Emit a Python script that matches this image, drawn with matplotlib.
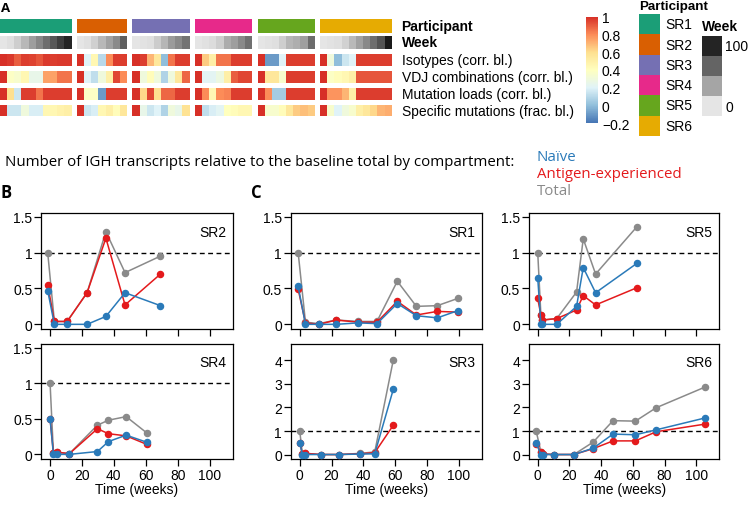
import numpy as np
import matplotlib
matplotlib.use("Agg")
import matplotlib.pyplot as plt
from matplotlib.colors import LinearSegmentedColormap, ListedColormap, Normalize
from matplotlib.cm import ScalarMappable
from matplotlib.patches import Rectangle

W, H = 749, 506

# ---------------- data ----------------
participants = ["SR1", "SR2", "SR3", "SR4", "SR5", "SR6"]
participant_colors = ["#1b9e77", "#d95f02", "#7570b3", "#e7298a", "#66a61e", "#e6ab02"]

# time points (weeks)
weeks = {
    "SR1": [-1, 3.6, 12.1, 23, 36.7, 48.6, 61.4, 73.4, 86.6, 99.4],
    "SR2": [-1.5, 2.7, 10.7, 23.2, 35, 47, 69.2],
    "SR3": [0, 1.7, 3.6, 13.2, 24.5, 38.2, 47.2, 58.9],
    "SR4": [0, 2.1, 4.6, 12.1, 29.7, 36.6, 47.7, 60.7],
    "SR5": [0, 2, 3, 12, 24.5, 28.7, 36.5, 62.6],
    "SR6": [-1, 2, 3.5, 10.3, 22.8, 35, 47.5, 61.6, 74.7, 105.2],
}
naive = {
    "SR1": [0.53, 0.0, 0.0, 0.0, 0.02, 0.01, 0.29, 0.12, 0.09, 0.19],
    "SR2": [0.47, 0.0, 0.0, 0.0, 0.11, 0.44, 0.26],
    "SR3": [0.49, 0.0, 0.0, 0.0, 0.0, 0.02, 0.03, 2.78],
    "SR4": [0.5, 0.0, 0.0, 0.0, 0.04, 0.18, 0.27, 0.17],
    "SR5": [0.65, 0.0, 0.0, 0.0, 0.25, 0.79, 0.44, 0.85],
    "SR6": [0.5, 0.0, 0.0, 0.0, 0.0, 0.27, 0.87, 0.84, 1.05, 1.55],
}
antigen_exp = {
    "SR1": [0.49, 0.02, 0.0, 0.06, 0.03, 0.03, 0.32, 0.13, 0.18, 0.17],
    "SR2": [0.55, 0.04, 0.04, 0.44, 1.2, 0.27, 0.70],
    "SR3": [0.5, 0.02, 0.05, 0.0, 0.0, 0.03, 0.08, 1.25],
    "SR4": [0.5, 0.02, 0.03, 0.01, 0.36, 0.29, 0.26, 0.14],
    "SR5": [0.36, 0.13, 0.06, 0.08, 0.2, 0.40, 0.27, 0.51],
    "SR6": [0.45, 0.1, 0.02, 0.0, 0.0, 0.25, 0.58, 0.58, 0.97, 1.29],
}
total = {
    "SR1": [1.0, 0.03, 0.01, 0.06, 0.04, 0.04, 0.60, 0.25, 0.26, 0.36],
    "SR2": [1.0, 0.04, 0.04, 0.44, 1.29, 0.72, 0.95],
    "SR3": [1.0, 0.02, 0.05, 0.0, 0.0, 0.05, 0.11, 4.03],
    "SR4": [1.0, 0.02, 0.03, 0.01, 0.41, 0.48, 0.53, 0.30],
    "SR5": [1.0, 0.13, 0.06, 0.08, 0.45, 1.19, 0.70, 1.36],
    "SR6": [1.0, 0.12, 0.02, 0.0, 0.0, 0.53, 1.44, 1.42, 1.99, 2.86],
}

# heatmap rows
heat_labels = ["Isotypes (corr. bl.)", "VDJ combinations (corr. bl.)",
               "Mutation loads (corr. bl.)", "Specific mutations (frac. bl.)"]
isotypes = {
    "SR1": [1, 0.98, 0.9, 0.97, 0.96, 0.92, 0.98, 0.97, 0.98, 0.98],
    "SR2": [1, 0.2, 0.45, 0.1, 0.8, 0.97, 0.97],
    "SR3": [1, 0.97, 0.7, 0.55, 0.0, 0.85, 0.97, 0.97],
    "SR4": [1, 0.65, 0.5, 0.85, 0.85, 0.97, 0.97, 0.97],
    "SR5": [1, -0.1, -0.1, 0.2, 0.97, 0.97, 0.97, 0.97],
    "SR6": [1, 0.3, 0.0, 0.15, 0.2, 0.97, 0.97, 0.97, 0.97, 0.97],
}
vdj = {
    "SR1": [1, 0.38, 0.35, 0.45, 0.25, 0.25, 0.75, 0.75, 0.85, 0.85],
    "SR2": [1, 0.2, 0.12, 0.3, 0.5, 0.95, 0.8],
    "SR3": [1, 0.3, 0.42, 0.3, 0.08, 0.3, 0.55, 0.88],
    "SR4": [1, 0.22, 0.22, 0.28, 0.5, 0.9, 0.95, 0.95],
    "SR5": [1, 0.55, 0.55, 0.35, 0.97, 0.97, 0.97, 0.97],
    "SR6": [1, 0.38, 0.42, 0.45, 0.5, 0.92, 0.92, 0.92, 0.92, 0.92],
}
mutation_loads = {
    "SR1": [1, 0.6, 0.15, 0.97, 0.97, 0.85, 0.97, 0.97, 0.97, 0.97],
    "SR2": [1, 0.38, 0.38, -0.1, 0.97, 0.97, 0.97],
    "SR3": [1, 0.62, 0.95, 0.6, 0.88, 0.88, 0.97, 0.97],
    "SR4": [1, 0.8, 0.45, 0.8, 0.82, 0.97, 0.97, 0.97],
    "SR5": [1, 0.8, 0.05, 0.05, 0.97, 0.97, 0.97, 0.97],
    "SR6": [1, 0.78, 0.78, 0.7, 0.5, 0.97, 0.97, 0.97, 0.97, 0.97],
}
specific_mut = {
    "SR1": [1, 0.15, 0.15, 0.3, 0.18, 0.18, 0.45, 0.45, 0.48, 0.5],
    "SR2": [1, 0.15, 0.18, 0.45, 0.5, 0.42, 0.55],
    "SR3": [1, 0.25, 0.15, 0.2, 0.08, 0.3, 0.25, 0.58],
    "SR4": [1, 0.12, 0.18, 0.22, 0.4, 0.42, 0.45, 0.45],
    "SR5": [1, 0.35, 0.35, 0.42, 0.55, 0.65, 0.68, 0.65],
    "SR6": [1, 0.35, 0.2, 0.3, 0.35, 0.5, 0.55, 0.62, 0.7, 0.72],
}
colorbar_ticks = [-0.2, 0, 0.2, 0.4, 0.6, 0.8, 1]
colorbar_ticklabels = ["\u22120.2", "0", "0.2", "0.4", "0.6", "0.8", "1"]
week_legend_values = [100, 66.7, 33.3, 0]

# ---------------- style ----------------
C_NAIVE = "#2a7ab9"
C_AE = "#e41a1c"
C_TOT = "#8a8a8a"
ARIAL = ["Liberation Sans", "DejaVu Sans"]
MYRIAD = ["Open Sans", "DejaVu Sans"]
FS = 10.0      # Arial-like text
FS_T = 10.8    # title/legend text

heat_cmap = LinearSegmentedColormap.from_list(
    "ph", ["#4575b4", "#91bfdb", "#e0f3f8", "#ffffbf", "#fee090", "#fc8d59", "#d73027"])
heat_norm = Normalize(-0.2, 1)
week_cmap = LinearSegmentedColormap.from_list("wk", ["#e5e5e5", "#1a1a1a"])
week_norm = Normalize(0, 105)
part_cmap = ListedColormap(participant_colors)
part_norm = Normalize(-0.5, 5.5)

fig = plt.figure(figsize=(W / 100, H / 100), dpi=100)


def px(x0, y0, x1, y1):
    return [x0 / W, 1 - y1 / H, (x1 - x0) / W, (y1 - y0) / H]


ov = fig.add_axes([0, 0, 1, 1])
ov.set_xlim(0, W)
ov.set_ylim(H, 0)
ov.axis("off")

# ---------------- heatmap (panel A) ----------------
cell_w = 7.15
gap_w = 5.4
row_spans = [(20, 34), (36.7, 50), (55, 66.7), (72, 84), (89, 100.7), (106, 117.3)]
metrics = [isotypes, vdj, mutation_loads, specific_mut]
x_start = 0.0
for pi, p in enumerate(participants):
    n = len(weeks[p])
    X = x_start + np.arange(n + 1) * cell_w
    kw = dict(shading="flat", edgecolors="face", linewidth=0.0, antialiased=False)
    ov.pcolormesh(X, row_spans[0], np.full((1, n), pi), cmap=part_cmap, norm=part_norm, **kw)
    ov.pcolormesh(X, row_spans[1], np.clip(np.array(weeks[p]), 0, None)[None, :],
                  cmap=week_cmap, norm=week_norm, **kw)
    for mi, m in enumerate(metrics):
        ov.pcolormesh(X, row_spans[2 + mi], np.array(m[p])[None, :],
                      cmap=heat_cmap, norm=heat_norm, **kw)
    x_start = X[-1] + gap_w

lab_x = 401.5
row_names = ["Participant", "Week"] + heat_labels
for i, name in enumerate(row_names):
    yc = sum(row_spans[i]) / 2
    ov.text(lab_x, yc, name, va="center", ha="left", fontsize=FS, family=ARIAL,
            fontweight="bold" if i < 2 else "normal")

# colorbar
cax = fig.add_axes(px(586, 18, 597.7, 124))
cb = fig.colorbar(ScalarMappable(heat_norm, heat_cmap), cax=cax, ticks=colorbar_ticks)
cb.outline.set_visible(False)
cb.ax.set_yticklabels(colorbar_ticklabels)
cax.tick_params(length=0, labelsize=FS, pad=3)
for t in cax.get_yticklabels():
    t.set_family(ARIAL)

# participant legend
ov.text(639.5, 7.0, "Participant", fontsize=9.6, fontweight="bold", family=ARIAL,
        va="center", ha="left")
for i, p in enumerate(participants):
    y0 = 15 + i * 20.3
    ov.add_patch(Rectangle((639.3, y0), 20.7, 20.3, facecolor=participant_colors[i],
                           edgecolor="none"))
    ov.text(665, y0 + 10.2, p, fontsize=FS, family=ARIAL, va="center", ha="left")

# week legend
ov.text(701.7, 26.7, "Week", fontsize=FS, fontweight="bold", family=ARIAL,
        va="center", ha="left")
for i, v in enumerate(week_legend_values):
    y0 = 36.7 + i * 20
    ov.add_patch(Rectangle((701.7, y0), 20, 20, facecolor=week_cmap(week_norm(v)),
                           edgecolor="none"))
ov.text(725, 46.7, "100", fontsize=FS, family=ARIAL, va="center", ha="left")
ov.text(725, 108, "0", fontsize=FS, family=ARIAL, va="center", ha="left")

# panel letters & title
ov.text(1, 8.5, "A", fontsize=9.5, fontweight="bold", family=MYRIAD, va="center", ha="left")
ov.text(1, 193.5, "B", fontsize=12, fontweight="bold", family=MYRIAD, va="center", ha="left")
ov.text(250.5, 193.5, "C", fontsize=12, fontweight="bold", family=MYRIAD, va="center", ha="left")
ov.text(5, 162, "Number of IGH transcripts relative to the baseline total by compartment:",
        fontsize=FS_T, family=MYRIAD, va="center", ha="left")
ov.text(537, 157, "Na\u00efve", fontsize=FS_T, family=MYRIAD, color=C_NAIVE, va="center", ha="left")
ov.text(537, 174, "Antigen-experienced", fontsize=FS_T, family=MYRIAD, color=C_AE,
        va="center", ha="left")
ov.text(537, 191.5, "Total", fontsize=FS_T, family=MYRIAD, color=C_TOT, va="center", ha="left")

# ---------------- line panels ----------------
cols = [(41.3, 232.7), (291, 481.7), (529, 719.3)]
rows = [(214, 330), (345, 460)]
layout = [("SR2", 0, 0), ("SR4", 0, 1), ("SR1", 1, 0), ("SR3", 1, 1), ("SR5", 2, 0), ("SR6", 2, 1)]
small_ticks = [0, 0.5, 1, 1.5]
small_labels = ["0", "0.5", "1", "1.5"]
big_ticks = [0, 1, 2, 3, 4]
big_labels = ["0", "1", "2", "3", "4"]
x_ticks = [0, 20, 40, 60, 80, 100]

for p, ci, ri in layout:
    x0, x1 = cols[ci]
    y0, y1 = rows[ri]
    ax = fig.add_axes(px(x0, y0, x1, y1))
    t = weeks[p]
    ax.axhline(1, color="black", lw=1.0, ls=(0, (3.5, 2.5)), zorder=1)
    ax.plot(t, total[p], "-o", color=C_TOT, lw=1.1, ms=4.4, zorder=2)
    ax.plot(t, antigen_exp[p], "-o", color=C_AE, lw=1.1, ms=4.4, zorder=3)
    ax.plot(t, naive[p], "-o", color=C_NAIVE, lw=1.1, ms=4.4, zorder=4)
    ax.set_xlim(-5.5, 114.5)
    if p in ("SR3", "SR6"):
        ax.set_ylim(-0.19, 4.7)
        ax.set_yticks(big_ticks)
        ax.set_yticklabels(big_labels)
    else:
        ax.set_ylim(-0.065, 1.55)
        ax.set_yticks(small_ticks)
        ax.set_yticklabels(small_labels)
    ax.set_xticks(x_ticks)
    if ri == 1:
        ax.set_xticklabels([str(v) for v in x_ticks])
        ax.set_xlabel("Time (weeks)", fontsize=FS, family=ARIAL, labelpad=0)
    else:
        ax.set_xticklabels([])
    ax.tick_params(direction="out", length=5, width=0.9, labelsize=FS, pad=1.5)
    for lab in ax.get_xticklabels() + ax.get_yticklabels():
        lab.set_family(ARIAL)
    for s in ax.spines.values():
        s.set_linewidth(0.9)
    ax.text(0.965, 0.84, p, transform=ax.transAxes, ha="right", va="center",
            fontsize=FS, family=ARIAL)

fig.savefig("out.png", dpi=100)
